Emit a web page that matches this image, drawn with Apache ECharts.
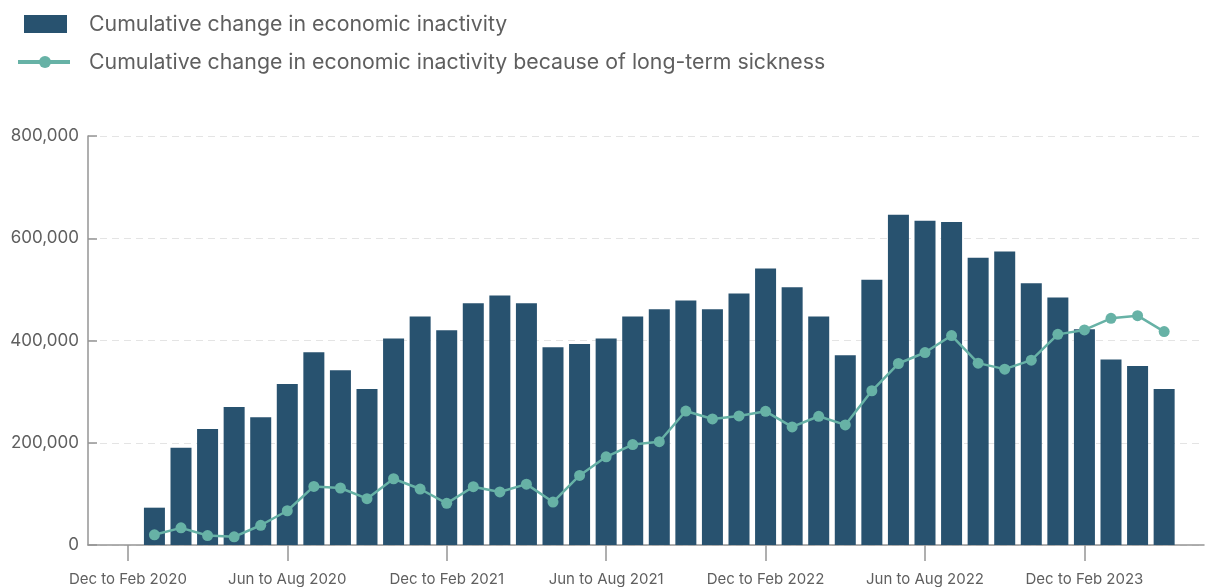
<!DOCTYPE html>
<html>
<head>
<meta charset="utf-8">
<script src="https://cdn.jsdelivr.net/npm/echarts@6/dist/echarts.min.js"></script>
<style>
  html, body { margin: 0; padding: 0; background: #fff; }
  #chart { width: 1206px; height: 587px; }
</style>
</head>
<body>
<div id="chart"></div>
<script>
// Rolling three-month periods on the x axis
const periods = [
  "Nov to Jan 2020", "Dec to Feb 2020", "Jan to Mar 2020", "Feb to Apr 2020", "Mar to May 2020",
  "Apr to Jun 2020", "May to Jul 2020", "Jun to Aug 2020", "Jul to Sep 2020", "Aug to Oct 2020",
  "Sep to Nov 2020", "Oct to Dec 2020", "Nov to Jan 2021", "Dec to Feb 2021", "Jan to Mar 2021",
  "Feb to Apr 2021", "Mar to May 2021", "Apr to Jun 2021", "May to Jul 2021", "Jun to Aug 2021",
  "Jul to Sep 2021", "Aug to Oct 2021", "Sep to Nov 2021", "Oct to Dec 2021", "Nov to Jan 2022",
  "Dec to Feb 2022", "Jan to Mar 2022", "Feb to Apr 2022", "Mar to May 2022", "Apr to Jun 2022",
  "May to Jul 2022", "Jun to Aug 2022", "Jul to Sep 2022", "Aug to Oct 2022", "Sep to Nov 2022",
  "Oct to Dec 2022", "Nov to Jan 2023", "Dec to Feb 2023", "Jan to Mar 2023", "Feb to Apr 2023",
  "Mar to May 2023", "Apr to Jun 2023"
];

// Cumulative change in economic inactivity (people)
const inactivityChange = [
  null, null,
  73000, 190000, 227000, 270000, 250000, 315000, 377000, 342000, 305000, 404000,
  447000, 420000, 473000, 488000, 473000, 387000, 393000, 404000, 447000, 461000,
  478000, 461000, 492000, 541000, 504000, 447000, 371000, 519000, 646000, 634000,
  632000, 562000, 574000, 512000, 484000, 422000, 363000, 350000, 305000,
  null
];

// Of which: because of long-term sickness
const sicknessChange = [
  null, null,
  20000, 33500, 18500, 16000, 38600, 67000, 114600, 111500, 90600, 129600,
  109500, 81500, 114000, 103700, 119000, 84000, 136000, 172500, 196500, 202000,
  262000, 246500, 252400, 261500, 231000, 251800, 234900, 301700, 355000, 376500,
  409700, 355700, 344000, 361500, 412000, 420600, 443400, 448600, 417500,
  null
];

const yTicks = { min: 0, max: 800000, interval: 200000 };

const seriesNames = [
  "Cumulative change in economic inactivity",
  "Cumulative change in economic inactivity because of long-term sickness"
];

const BAR_COLOR = "#28526f";
const LINE_COLOR = "#67b2a6";
const TEXT_COLOR = "#5f5f5f";
const FONT = "Inter, 'Noto Sans', sans-serif";

const chart = echarts.init(document.getElementById("chart"), null, { renderer: "canvas" });

const showEvery6 = (idx) => idx % 6 === 1;

chart.setOption({
  animation: false,
  backgroundColor: "#ffffff",
  textStyle: { fontFamily: FONT },
  grid: { left: 88, right: 2, top: 136, bottom: 41.5, containLabel: false },
  // Hand-placed legend at top left
  graphic: [
    { type: "rect", left: 24, top: 15, shape: { width: 43, height: 18 }, style: { fill: BAR_COLOR } },
    { type: "text", left: 89, top: 14, style: { text: seriesNames[0], fill: TEXT_COLOR, font: "21.3px " + FONT } },
    { type: "line", shape: { x1: 18, y1: 62, x2: 70, y2: 62 }, style: { stroke: LINE_COLOR, lineWidth: 4 } },
    { type: "circle", shape: { cx: 45, cy: 62, r: 6 }, style: { fill: LINE_COLOR } },
    { type: "text", left: 89, top: 52, style: { text: seriesNames[1], fill: TEXT_COLOR, font: "21.3px " + FONT } }
  ],
  xAxis: {
    type: "category",
    data: periods,
    boundaryGap: true,
    axisLine: { lineStyle: { color: "#959595", width: 1.5 } },
    axisTick: { show: true, alignWithLabel: true, interval: showEvery6, length: 16, lineStyle: { color: "#959595", width: 1.5 } },
    axisLabel: { interval: showEvery6, color: TEXT_COLOR, fontSize: 15, margin: 27, fontFamily: FONT },
    splitLine: { show: false }
  },
  yAxis: {
    type: "value",
    min: yTicks.min,
    max: yTicks.max,
    interval: yTicks.interval,
    axisLine: { show: true, lineStyle: { color: "#959595", width: 1.5 } },
    axisTick: { show: true, inside: true, length: 9, lineStyle: { color: "#959595", width: 1.5 } },
    axisLabel: {
      color: TEXT_COLOR, fontSize: 17, margin: 9, fontFamily: FONT,
      formatter: (v) => v.toLocaleString("en-US")
    },
    splitLine: { show: true, lineStyle: { color: "#e4e4e4", width: 1, type: [7, 5] } }
  },
  series: [
    {
      name: seriesNames[0],
      type: "bar",
      data: inactivityChange,
      barWidth: 21,
      itemStyle: { color: BAR_COLOR },
      z: 2
    },
    {
      name: seriesNames[1],
      type: "line",
      data: sicknessChange,
      symbol: "circle",
      symbolSize: 11,
      showSymbol: true,
      lineStyle: { color: LINE_COLOR, width: 2.5 },
      itemStyle: { color: LINE_COLOR },
      z: 3
    }
  ]
});
</script>
</body>
</html>
